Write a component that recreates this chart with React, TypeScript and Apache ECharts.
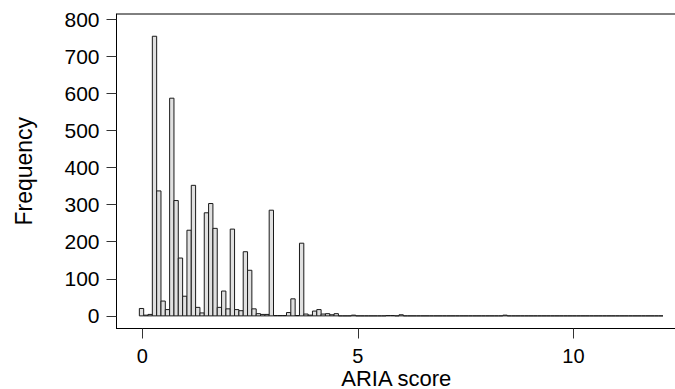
import React, { useEffect, useRef } from "react";
import * as echarts from "echarts";

// Histogram bins: left edge of the first bin and bin width (ARIA score units)
const binStart = -0.07;
const binWidth = 0.1004;
// Frequency per bin (121 bins)
const counts: number[] = [
  20, 2, 4, 754, 337, 40, 17, 587, 311, 156,
  53, 231, 352, 23, 8, 278, 303, 236, 23, 67,
  19, 234, 17, 14, 173, 123, 19, 6, 4, 4,
  285, 1, 1, 1, 9, 46, 1, 196, 5, 2,
  13, 17, 5, 6, 3, 6, 0, 0, 0, 2,
  0, 0, 0, 0, 0, 0, 0, 1, 1, 0,
  3, 0, 0, 0, 0, 0, 0, 0, 0, 0,
  0, 0, 0, 0, 0, 0, 0, 0, 0, 0,
  0, 0, 0, 0, 2, 0, 0, 0, 0, 0,
  0, 0, 0, 0, 0, 0, 0, 0, 0, 0,
  0, 0, 0, 0, 0, 0, 0, 0, 0, 0,
  0, 0, 0, 0, 0, 0, 0, 0, 0, 0,
  0,
];
const xTicks = [0, 5, 10];
const yTicks = [0, 100, 200, 300, 400, 500, 600, 700, 800];
const xTitle = "ARIA score";
const yTitle = "Frequency";

export default function App() {
  const ref = useRef<HTMLDivElement>(null);
  useEffect(() => {
    if (!ref.current) return;
    const chart = echarts.init(ref.current, null, { renderer: "svg" });
    const font = "'Liberation Sans', Arial, Helvetica, sans-serif";
    const data = counts.map((c, i) => [binStart + i * binWidth, c]);
    chart.setOption({
      animation: false,
      backgroundColor: "#ffffff",
      grid: {
        left: 116.5,
        right: -1,
        top: 14,
        bottom: 60.5,
        show: true,
        borderColor: "#000",
        borderWidth: 1,
        containLabel: false,
        outerBoundsMode: "none",
      },
      xAxis: {
        type: "value",
        min: -0.6,
        max: 12.38,
        name: xTitle,
        nameLocation: "middle",
        nameGap: 41,
        nameMoveOverlap: false,
        nameTextStyle: { fontFamily: font, fontSize: 22, color: "#000", lineHeight: 18 },
        axisLine: { onZero: false, lineStyle: { color: "#000", width: 1 } },
        axisTick: { show: true, length: 10, customValues: xTicks, lineStyle: { color: "#333" } },
        axisLabel: { customValues: xTicks, margin: 19, lineHeight: 16, fontFamily: font, fontSize: 20, color: "#000" },
        splitLine: { show: false },
      },
      yAxis: {
        type: "value",
        min: -34,
        max: 814,
        name: yTitle,
        nameLocation: "middle",
        nameRotate: 90,
        nameGap: 81,
        nameMoveOverlap: false,
        nameTextStyle: { fontFamily: font, fontSize: 23, color: "#000" },
        axisLine: { show: true, onZero: false, lineStyle: { color: "#000", width: 1 } },
        axisTick: { show: true, length: 10, customValues: yTicks, lineStyle: { color: "#333" } },
        axisLabel: { customValues: yTicks, margin: 17, fontFamily: font, fontSize: 21, color: "#000" },
        splitLine: { show: false },
      },
      series: [
        {
          type: "custom",
          data,
          encode: { x: 0, y: 1 },
          clip: true,
          renderItem: (params: any, api: any) => {
            const x0 = api.value(0);
            const v = api.value(1);
            const p0 = api.coord([x0, v]);
            const p1 = api.coord([x0 + binWidth, 0]);
            return {
              type: "rect",
              shape: { x: p0[0], y: p0[1], width: p1[0] - p0[0], height: p1[1] - p0[1] },
              style: { fill: "#e0e0e0", stroke: "#1a1a1a", lineWidth: 1 },
            };
          },
        },
      ],
    });
    return () => chart.dispose();
  }, []);
  return (
    <div
      ref={ref}
      style={{ position: "fixed", left: 0, top: 0, width: 675, height: 389, background: "#fff" }}
    />
  );
}
